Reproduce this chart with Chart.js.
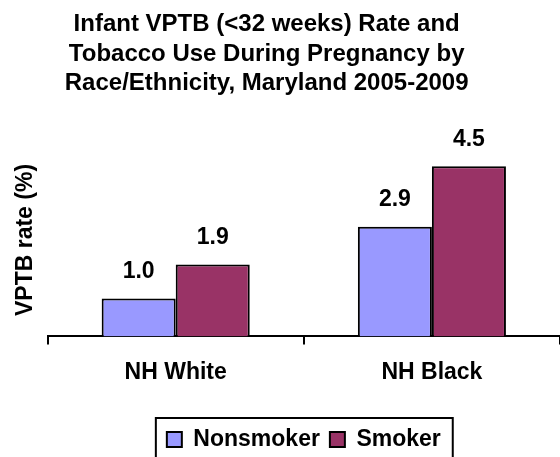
<!DOCTYPE html>
<html>
<head>
<meta charset="utf-8">
<script src="https://cdn.jsdelivr.net/npm/chart.js@4/dist/chart.umd.min.js"></script>
<style>
  html, body { margin: 0; padding: 0; background: #fff; }
  #chart { display: block; }
</style>
</head>
<body>
<canvas id="chart" width="560" height="457"></canvas>
<script>
'use strict'

// data
const categories = ['NH White', 'NH Black'];
const nonsmoker = [1.0, 2.9];
const smoker = [1.9, 4.5];
const seriesNames = ['Nonsmoker', 'Smoker'];
const titleLines = ['Infant VPTB (<32 weeks) Rate and', 'Tobacco Use During Pregnancy by', 'Race/Ethnicity, Maryland 2005-2009'];

const FONT = 'Arial, "Liberation Sans", sans-serif';

/******************     PLUGINS    ******************/

    // value labels above every bar
    const barLabels = {
        id: 'barLabels',
        afterDatasetsDraw(chart) {
            const ctx = chart.ctx;
            ctx.save();
            ctx.font = `bold 23px ${FONT}`;
            ctx.fillStyle = '#000';
            ctx.textAlign = 'center';
            ctx.textBaseline = 'middle';
            chart.data.datasets.forEach((ds, i) => {
                chart.getDatasetMeta(i).data.forEach((bar, j) => {
                    ctx.fillText(ds.data[j].toFixed(1), bar.x, bar.y - 27);
                });
            });
            ctx.restore();
        }
    };

    // framed legend like the old office charts
    const legendFrame = {
        id: 'legendFrame',
        afterDraw(chart) {
            const boxes = chart.legend.legendHitBoxes;
            if (!boxes || !boxes.length) return;
            const left = Math.min(...boxes.map(b => b.left)) - 11;
            const right = Math.max(...boxes.map(b => b.left + b.width)) + 12;
            const top = Math.min(...boxes.map(b => b.top)) - 10;
            const ctx = chart.ctx;
            ctx.save();
            ctx.strokeStyle = '#000';
            ctx.lineWidth = 2;
            ctx.strokeRect(left, top, right - left, chart.height + 10 - top);
            ctx.restore();
        }
    };

/******************     CHART    ******************/

    const ctx = document.getElementById('chart');
    const chart = new Chart(ctx, {
        type: 'bar',
        data: {
            labels: categories,
            datasets: [
                { label: seriesNames[0], data: nonsmoker, backgroundColor: '#9999FF', borderColor: '#000', borderWidth: 2 },
                { label: seriesNames[1], data: smoker, backgroundColor: '#993366', borderColor: '#000', borderWidth: 2 }
            ]
        },
        options: {
            responsive: false,
            animation: false,
            // legend frame runs off the bottom edge in the original
            layout: { padding: { left: 0, right: 0, top: 0, bottom: -4 } },
            categoryPercentage: 0.578,
            barPercentage: 1,
            plugins: {
                title: {
                    display: true,
                    // trailing spaces nudge the centred title a bit to the left
                    text: titleLines.map(t => t + '    '),
                    color: '#000',
                    font: { family: FONT, size: 24, weight: 'bold', lineHeight: 1.23 },
                    padding: { top: 10, bottom: 45 }
                },
                legend: {
                    position: 'bottom',
                    fullSize: false,
                    labels: {
                        color: '#000',
                        font: { family: FONT, size: 23, weight: 'bold' },
                        boxWidth: 15,
                        boxHeight: 15,
                        padding: 10
                    }
                },
                tooltip: { enabled: false }
            },
            scales: {
                x: {
                    grid: { drawOnChartArea: false, drawTicks: true, tickLength: 8, color: '#000', lineWidth: 2, offset: true },
                    border: { display: true, color: '#000', width: 2 },
                    ticks: { color: '#000', font: { family: FONT, size: 23, weight: 'bold' }, padding: 14 },
                    // leave room between the category names and the legend
                    afterFit: (scale) => { scale.height += 18; }
                },
                y: {
                    min: 0,
                    max: 5.1,
                    grid: { display: false },
                    border: { display: false },
                    ticks: { display: false },
                    title: {
                        display: true,
                        text: 'VPTB rate (%)',
                        color: '#000',
                        font: { family: FONT, size: 23, weight: 'bold' },
                        padding: { top: 12, bottom: 0 }
                    }
                }
            }
        },
        plugins: [barLabels, legendFrame]
    });
</script>
</body>
</html>
